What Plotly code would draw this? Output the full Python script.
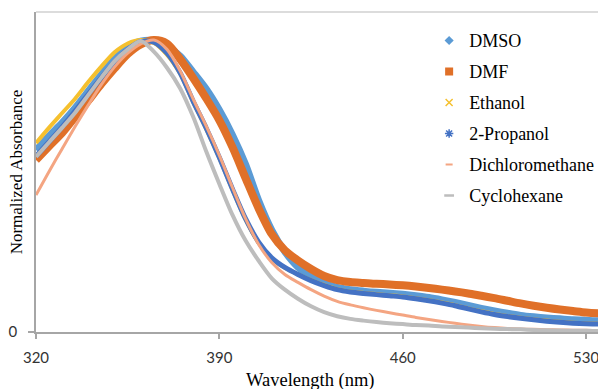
import plotly.graph_objects as go

wavelength = list(range(320, 545, 5))

dmso = [0.623, 0.672, 0.717, 0.768, 0.826, 0.882, 0.935, 0.975, 0.996, 0.998,
        0.980, 0.945, 0.890, 0.832, 0.760, 0.675, 0.574, 0.450, 0.349, 0.275,
        0.222, 0.188, 0.167, 0.153, 0.145, 0.140, 0.136, 0.133, 0.129, 0.124,
        0.118, 0.110, 0.101, 0.091, 0.081, 0.072, 0.064, 0.057, 0.052, 0.048,
        0.045, 0.042, 0.040, 0.038, 0.037]
dmf = [0.589, 0.636, 0.682, 0.737, 0.793, 0.850, 0.903, 0.952, 0.985, 1.000,
       0.988, 0.935, 0.870, 0.800, 0.725, 0.633, 0.527, 0.423, 0.335, 0.280,
       0.245, 0.216, 0.192, 0.178, 0.171, 0.168, 0.165, 0.163, 0.160, 0.156,
       0.151, 0.145, 0.139, 0.132, 0.124, 0.116, 0.107, 0.098, 0.090, 0.083,
       0.077, 0.072, 0.067, 0.064, 0.062]
ethanol = [0.647, 0.700, 0.750, 0.800, 0.857, 0.910, 0.958, 0.988, 1.000, 0.990,
           0.950, 0.885, 0.787, 0.695, 0.595, 0.487, 0.385, 0.305, 0.252, 0.220,
           0.198, 0.178, 0.161, 0.147, 0.139, 0.134, 0.130, 0.126, 0.122, 0.116,
           0.109, 0.101, 0.092, 0.081, 0.071, 0.062, 0.055, 0.049, 0.044, 0.039,
           0.035, 0.032, 0.030, 0.029, 0.028]
propanol = [0.602, 0.652, 0.703, 0.758, 0.815, 0.872, 0.925, 0.968, 0.995, 0.993,
            0.955, 0.888, 0.790, 0.698, 0.598, 0.490, 0.388, 0.308, 0.254, 0.221,
            0.197, 0.176, 0.159, 0.145, 0.137, 0.132, 0.128, 0.124, 0.120, 0.114,
            0.107, 0.099, 0.090, 0.079, 0.069, 0.060, 0.053, 0.047, 0.042, 0.037,
            0.033, 0.030, 0.028, 0.027, 0.026]
dcm = [0.469, 0.550, 0.628, 0.705, 0.778, 0.848, 0.908, 0.955, 0.987, 1.000,
       0.968, 0.895, 0.798, 0.705, 0.605, 0.495, 0.388, 0.300, 0.238, 0.197,
       0.170, 0.145, 0.123, 0.105, 0.093, 0.083, 0.074, 0.066, 0.058, 0.050,
       0.043, 0.036, 0.030, 0.024, 0.019, 0.015, 0.012, 0.010, 0.009, 0.008,
       0.007, 0.006, 0.006, 0.005, 0.005]
cyclohexane = [0.600, 0.650, 0.700, 0.752, 0.812, 0.872, 0.928, 0.968, 0.997, 0.960,
               0.905, 0.835, 0.737, 0.618, 0.507, 0.401, 0.313, 0.244, 0.184, 0.145,
               0.114, 0.088, 0.068, 0.054, 0.045, 0.039, 0.034, 0.030, 0.027, 0.024,
               0.022, 0.019, 0.017, 0.015, 0.013, 0.011, 0.010, 0.009, 0.007, 0.006,
               0.005, 0.004, 0.004, 0.003, 0.003]

x_ticks = [320, 390, 460, 530]
series_names = ["DMSO", "DMF", "Ethanol", "2-Propanol", "Dichloromethane", "Cyclohexane"]

C_DMSO, C_DMF, C_ETH, C_PROP, C_DCM, C_CYC = "#5B9BD5", "#E07028", "#F5C02E", "#4472C4", "#F4A582", "#BDBDBD"

series = [
    (series_names[0], dmso, C_DMSO, 7, dict(symbol="diamond", size=7, color=C_DMSO)),
    (series_names[1], dmf, C_DMF, 8, dict(symbol="square", size=8, color=C_DMF)),
    (series_names[2], ethanol, C_ETH, 4, dict(symbol="x-thin-open", size=7, color=C_ETH, line=dict(color=C_ETH, width=1.5))),
    (series_names[3], propanol, C_PROP, 5, dict(symbol="asterisk-open", size=7, color=C_PROP, line=dict(color=C_PROP, width=1.5))),
    (series_names[4], dcm, C_DCM, 3, dict(symbol="line-ew-open", size=5, color=C_DCM, line=dict(color=C_DCM, width=2))),
    (series_names[5], cyclohexane, C_CYC, 4, dict(symbol="line-ew-open", size=7, color=C_CYC, line=dict(color=C_CYC, width=2.5))),
]

fig = go.Figure()
for name, vals, color, width, mk in series:
    fig.add_trace(go.Scatter(
        x=wavelength, y=vals, mode="lines", name=name, legendgroup=name,
        showlegend=False, line=dict(color=color, width=width, shape="spline", smoothing=0.8),
    ))
for name, vals, color, width, mk in series:
    fig.add_trace(go.Scatter(
        x=[None], y=[None], mode="markers", name=name, legendgroup=name,
        showlegend=True, marker=mk,
    ))

# page body has an 8px default margin, so the figure is sized/offset to fit the window
fig.update_layout(
    width=598, height=381,
    margin=dict(l=28, r=0, t=4, b=57),
    paper_bgcolor="white", plot_bgcolor="white",
    showlegend=True,
    legend=dict(x=0.6897, y=0.968, xanchor="left", yanchor="top",
                font=dict(family="Liberation Serif", size=18, color="#000000"),
                bgcolor="rgba(0,0,0,0)", tracegroupgap=4.6),
    xaxis=dict(range=[320, 537.6], tickvals=x_ticks, ticks="outside", ticklen=5,
               tickwidth=1.5, tickcolor="#A6A6A6", showline=True, linecolor="#A6A6A6",
               linewidth=1.5, showgrid=False, zeroline=False, ticklabelstandoff=6,
               tickfont=dict(family="Lato", size=15, color="#333333")),
    yaxis=dict(range=[0, 1.096], tickvals=[0], ticktext=["0"], ticks="outside", ticklen=6,
               tickwidth=1.5, tickcolor="#A6A6A6", showline=True, linecolor="#A6A6A6",
               linewidth=1.5, showgrid=False, zeroline=False, ticklabelstandoff=8,
               tickfont=dict(family="Lato", size=15, color="#333333")),
    shapes=[dict(type="line", xref="paper", yref="paper", x0=0, x1=1, y0=1, y1=1,
                 line=dict(color="#D0D0D0", width=1.5))],
    annotations=[
        dict(text="Normalized Absorbance", xref="paper", yref="paper",
             x=-0.0345, y=0.5, xanchor="center", yanchor="middle", textangle=-90,
             showarrow=False, font=dict(family="Liberation Serif", size=17, color="#000000")),
        dict(text="Wavelength (nm)", xref="paper", yref="paper",
             x=0.481, y=-0.153, xanchor="center", yanchor="middle",
             showarrow=False, font=dict(family="Liberation Serif", size=18.5, color="#000000")),
    ],
)

fig.write_html("out.html")
